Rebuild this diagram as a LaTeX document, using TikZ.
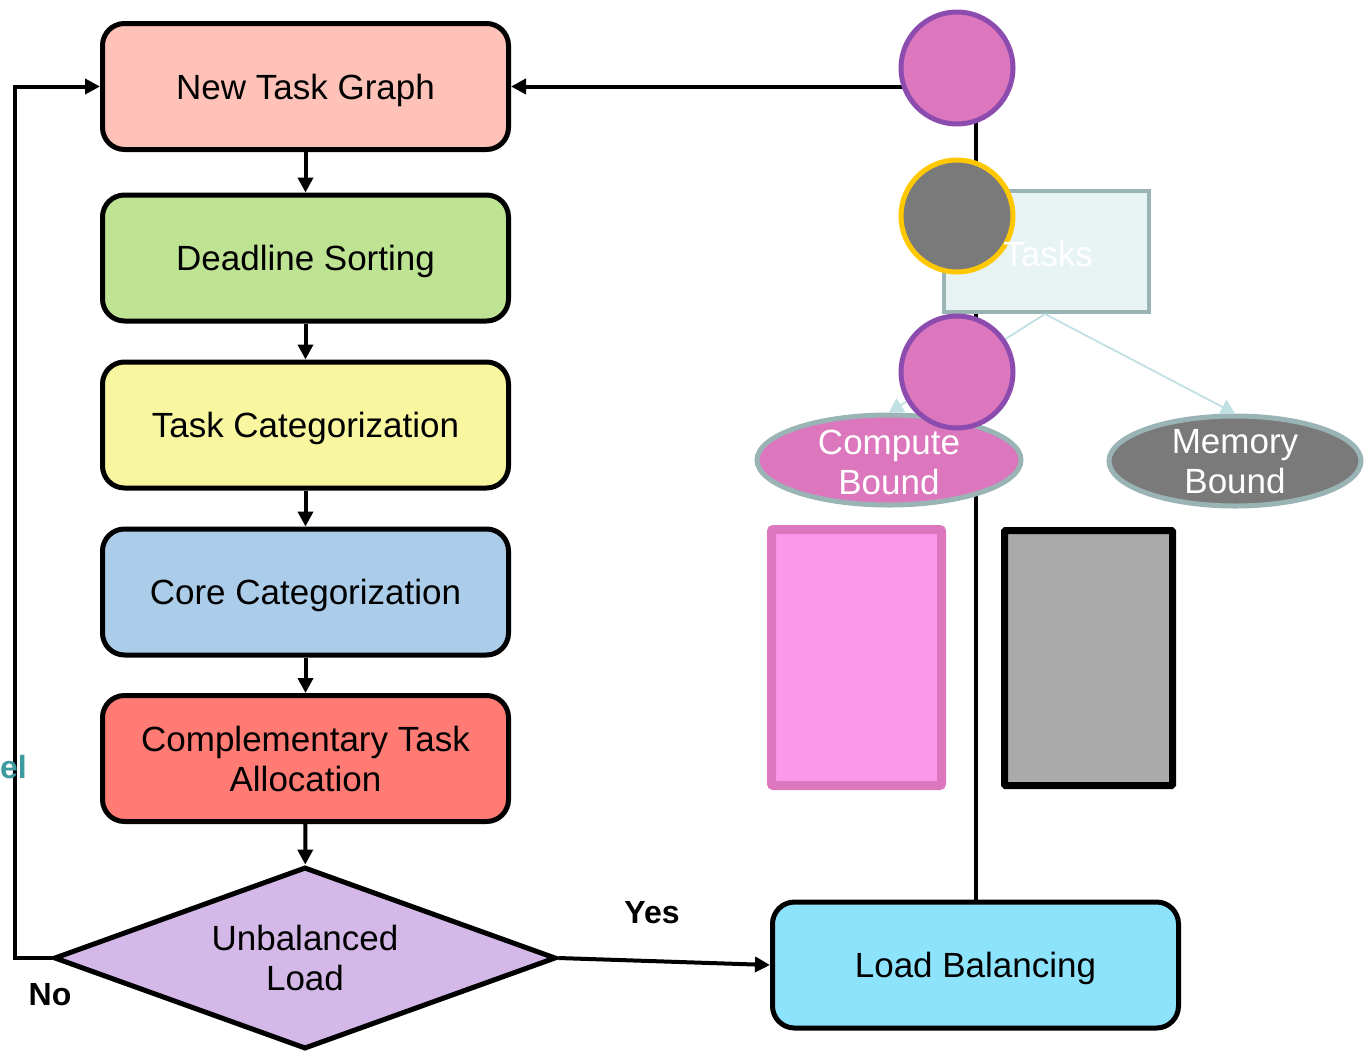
\documentclass[tikz,border=0pt]{standalone}
\usepackage{fontspec}
\setmainfont{Liberation Sans}
\usetikzlibrary{arrows.meta,shapes.geometric}
\definecolor{cNTG}{HTML}{FFC2B8}
\definecolor{cDS}{HTML}{BEE393}
\definecolor{cTC}{HTML}{F8F79F}
\definecolor{cCC}{HTML}{ABCDE9}
\definecolor{cCTA}{HTML}{FF7B73}
\definecolor{cDia}{HTML}{D4B8E8}
\definecolor{cLB}{HTML}{8EE3FC}
\definecolor{cPink}{HTML}{DC77BE}
\definecolor{cPurple}{HTML}{8B4BAF}
\definecolor{cGray}{HTML}{7A7A7A}
\definecolor{cGold}{HTML}{FFC800}
\definecolor{cTaskFill}{HTML}{E8F4F4}
\definecolor{cTaskLine}{HTML}{9AB3B5}
\definecolor{cLight}{HTML}{C0E0E4}
\definecolor{cPinkLight}{HTML}{FC98EC}
\definecolor{cGrayLight}{HTML}{AAAAAA}
\definecolor{cTeal}{HTML}{3E9A9F}
\tikzset{
  flowbox/.style={draw=black, line width=5pt, rounded corners=22pt, minimum width=406pt, minimum height=126pt, align=center, font=\fontsize{35}{40}\selectfont, inner sep=0pt, text depth=0pt},
  conn/.style={line width=4pt, -{Triangle[length=15pt,width=15pt]}},
  bubble/.style={circle, line width=5pt, minimum size=112pt, inner sep=0pt},
  catell/.style={ellipse, draw=cTaskLine, line width=5pt, inner sep=0pt},
  lightarrow/.style={draw=cLight, line width=1.8pt, -{Triangle[length=14pt,width=16pt]}},
  lbl/.style={font=\fontsize{32}{38}\selectfont\bfseries},
  whitetext/.style={text=white, align=center, font=\fontsize{35}{40}\selectfont},
}
\begin{document}
\begin{tikzpicture}[x=1pt,y=-1pt]
\useasboundingbox (0,0) rectangle (1369,1053);
% left flowchart
\node[flowbox, fill=cNTG] (ntg) at (305.5,86.5) {New Task Graph};
\node[flowbox, fill=cDS] (ds) at (305.5,258) {Deadline Sorting};
\node[flowbox, fill=cTC] (tc) at (305.5,425) {Task Categorization};
\node[flowbox, fill=cCC] (cc) at (305.5,592) {Core Categorization};
\node[flowbox, fill=cCTA] (cta) at (305.5,758.5) {Complementary Task\\Allocation};
\node[diamond, shape aspect=2.75, draw=black, line width=5pt, fill=cDia, minimum width=502pt, minimum height=182pt, inner sep=0pt, align=center, font=\fontsize{35}{40}\selectfont, text depth=0pt] (dia) at (305,958) {Unbalanced\\Load};
\node[flowbox, fill=cLB] (lb) at (975.5,965) {Load Balancing};

\draw[conn] (ntg) -- (ds);
\draw[conn] (ds) -- (tc);
\draw[conn] (tc) -- (cc);
\draw[conn] (cc) -- (cta);
\draw[conn] (cta) -- (dia);
\draw[conn] (dia.east) -- (lb.west);
\coordinate (loopc) at (15,958);
\draw[conn] (dia.west) -- (loopc) |- (ntg.west);
\draw[conn] (lb.north) |- (ntg.east);

\node[lbl, anchor=center] (yes) at (652,913) {Yes};
\node[lbl, anchor=center] (no) at (50,995) {No};
\node[lbl, text=cTeal, anchor=east, inner sep=0pt] (el) at (27,767) {el};

% right side decoration
\node[draw=cTaskLine, fill=cTaskFill, line width=4pt, minimum width=205pt, minimum height=121pt, inner sep=0pt] (tasks) at (1046.5,251.5) {};
\coordinate (tasksb) at (1045,314);
\node[catell, fill=cPink, minimum width=264pt, minimum height=90pt] (cb) at (889,460) {};
\node[catell, fill=cGray, minimum width=252pt, minimum height=90pt] (mb) at (1235,461) {};
\draw[lightarrow] (tasksb) -- (cb.north);
\draw[lightarrow] (tasksb) -- (mb.north);

\node[bubble, draw=cPurple, fill=cPink] (c1) at (957,68) {};
\node[bubble, draw=cGold, fill=cGray] (c2) at (957,216) {};
\node[bubble, draw=cPurple, fill=cPink] (c3) at (957,372) {};

\node[whitetext] (taskstxt) at (1048,254) {Tasks};
\node[whitetext] (cbtxt) at (889,462) {Compute\\Bound};
\node[whitetext] (mbtxt) at (1235,462) {Memory\\Bound};

\node[draw=cPink, fill=cPinkLight, line width=9pt, rounded corners=2pt, minimum width=170pt, minimum height=256pt, inner sep=0pt] (pinkrect) at (856.5,657.5) {};
\node[draw=black, fill=cGrayLight, line width=7pt, rounded corners=1pt, minimum width=168pt, minimum height=255pt, inner sep=0pt] (grayrect) at (1088.5,658) {};
\end{tikzpicture}
\end{document}
